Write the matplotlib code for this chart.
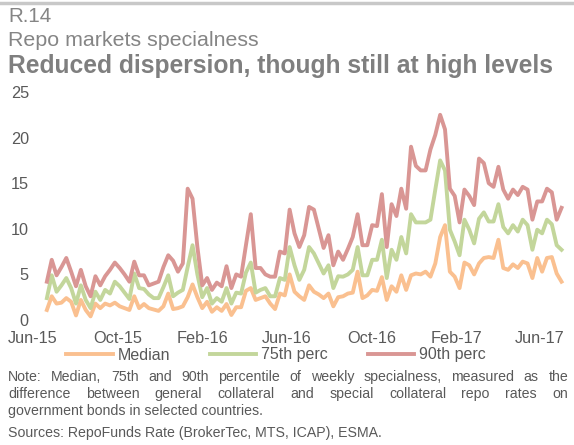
import matplotlib
matplotlib.use('Agg')
import matplotlib.pyplot as plt
import matplotlib.dates as mdates
import pandas as pd
from matplotlib.lines import Line2D

plt.rcParams['font.family'] = ['Liberation Sans', 'DejaVu Sans']

# ---------------- data ----------------
start_date = '2015-06-21'
median = [1.1, 2.6, 1.8, 1.9, 2.4, 2.0, 0.5, 2.2, 1.1, 0.4,
          1.8, 1.3, 1.8, 1.6, 1.9, 1.5, 1.3, 1.1, 2.6, 1.3,
          1.75, 1.3, 1.15, 1.0, 1.5, 2.9, 1.2, 1.3, 1.5, 2.5,
          3.9, 2.5, 1.3, 2.0, 0.9, 1.4, 1.0, 1.75, 0.55, 1.4,
          1.4, 3.2, 3.5, 2.2, 2.4, 2.6, 1.8, 1.2, 2.9, 2.7,
          5.0, 3.1, 2.6, 2.2, 3.8, 3.1, 2.8, 2.4, 2.9, 1.5,
          2.5, 2.6, 2.9, 3.0, 5.3, 2.4, 2.7, 3.3, 3.2, 4.7,
          2.2, 3.7, 3.1, 4.9, 3.3, 4.9, 5.1, 5.0, 5.3, 4.75,
          6.2, 9.1, 10.4, 5.3, 4.75, 3.5, 6.3, 6.0, 5.0, 6.2,
          6.8, 6.9, 6.8, 8.8, 5.7, 5.5, 6.1, 5.7, 6.4, 6.2,
          4.6, 6.8, 5.3, 6.8, 6.9, 5.1, 4.2]
perc75 = [2.4, 4.9, 3.1, 3.8, 4.6, 3.5, 1.8, 3.8, 2.2, 1.3,
          3.1, 2.2, 3.3, 2.9, 4.2, 3.7, 3.0, 2.3, 5.1, 3.5,
          3.4, 2.8, 2.4, 2.4, 3.6, 4.9, 2.6, 3.0, 3.3, 5.8,
          8.2, 5.0, 2.5, 3.5, 1.8, 2.4, 2.0, 3.5, 1.8, 3.0,
          2.9, 5.2, 6.3, 3.0, 3.3, 3.5, 2.6, 2.6, 4.6, 4.4,
          8.0, 6.0, 4.4, 5.5, 8.0, 7.3, 6.2, 5.1, 6.0, 3.5,
          4.8, 4.75, 5.0, 5.5, 8.0, 4.9, 4.9, 6.6, 6.6, 8.8,
          4.6, 7.7, 6.6, 9.1, 7.3, 11.6, 10.7, 10.7, 10.7, 11.0,
          14.3, 17.5, 16.4, 9.9, 8.6, 7.1, 11.0, 9.9, 8.4, 11.1,
          11.8, 10.8, 10.8, 12.7, 10.2, 9.5, 10.4, 9.7, 11.0, 10.4,
          7.7, 9.9, 9.5, 11.0, 10.5, 8.2, 7.7]
perc90 = [4.2, 6.6, 4.9, 5.8, 6.8, 5.3, 3.7, 5.5, 3.7, 2.6,
          4.8, 3.8, 4.8, 5.5, 6.3, 5.7, 5.0, 4.2, 6.4, 4.9,
          4.9, 3.8, 4.0, 4.2, 5.8, 7.1, 6.5, 5.3, 6.2, 14.4,
          13.3, 8.0, 3.8, 4.6, 3.3, 4.1, 3.7, 5.9, 3.5, 5.0,
          4.75, 8.2, 11.6, 5.7, 5.7, 5.0, 4.75, 4.75, 7.5, 7.3,
          12.1, 9.5, 8.0, 9.3, 12.4, 12.1, 10.0, 7.9, 9.3, 6.0,
          7.5, 6.6, 7.8, 9.1, 11.6, 8.2, 8.2, 10.4, 10.3, 13.8,
          8.0, 12.7, 11.4, 14.4, 12.2, 19.0, 16.9, 16.4, 16.4, 18.7,
          20.3, 22.5, 20.9, 14.4, 13.6, 10.7, 14.3, 13.6, 12.6, 17.7,
          17.2, 15.0, 14.6, 16.8, 14.3, 13.3, 14.3, 13.7, 14.6, 14.3,
          11.0, 13.0, 13.0, 14.4, 14.0, 11.0, 12.3]
series_names = ['Median', '75th perc', '90th perc']
series_colors = ['#FAC090', '#C3D69B', '#D99694']
tick_dates = ['2015-06-01', '2015-10-01', '2016-02-01', '2016-06-01',
              '2016-10-01', '2017-02-01', '2017-06-01']
tick_labels = ['Jun-15', 'Oct-15', 'Feb-16', 'Jun-16', 'Oct-16', 'Feb-17', 'Jun-17']
y_ticks = [0, 5, 10, 15, 20, 25]

# ---------------- figure ----------------
W, H = 574, 445
fig = plt.figure(figsize=(W / 100, H / 100), dpi=100)
fig.patch.set_facecolor('white')

ax = fig.add_axes([33 / W, 1 - 320 / H, 532 / W, 228 / H])
dates = pd.date_range(start_date, periods=len(median), freq='7D')
for vals, name, col in zip([median, perc75, perc90], series_names, series_colors):
    ax.plot(dates, vals, color=col, lw=2.8, label=name, solid_joinstyle='round')

ax.set_ylim(0, 25)
ax.set_yticks(y_ticks)
ax.set_xlim(pd.Timestamp('2015-06-01'), pd.Timestamp('2017-07-07'))
ax.set_xticks(pd.to_datetime(tick_dates))
ax.set_xticklabels(tick_labels)
for s in ax.spines.values():
    s.set_visible(False)
ax.tick_params(axis='both', length=0, labelsize=11.7, labelcolor='#595959')
ax.tick_params(axis='y', pad=3)
ax.tick_params(axis='x', pad=8)

# legend
handles = [Line2D([], [], color=c, lw=2.8) for c in series_colors]
fig.legend(handles, series_names, loc='center', ncol=3,
           bbox_to_anchor=(276 / W, 1 - 355 / H), frameon=False,
           fontsize=11.5, handlelength=2.9, handletextpad=0.3,
           columnspacing=2.5, labelcolor='#595959')

# top rule
fig.add_artist(Line2D([0, 1], [1 - 2.5 / H, 1 - 2.5 / H], transform=fig.transFigure,
                      color='#C8C8C8', lw=2.5))

# header texts
hc = '#858585'
fig.text(8 / W, 1 - 22 / H, 'R.14', fontsize=14.8, color=hc, va='baseline')
fig.text(8 / W, 1 - 46 / H, 'Repo markets specialness', fontsize=15.4, color=hc, va='baseline')
fig.text(8 / W, 1 - 73 / H, 'Reduced dispersion, though still at high levels',
         fontsize=17.7, color='#7f7f7f', weight='bold', va='baseline')

# notes (justified lines)
renderer = fig.canvas.get_renderer()


def justified(text, x0, x1, y, **kw):
    words = text.split()
    objs = [fig.text(0, 1 - y / H, w, va='baseline', **kw) for w in words]
    widths = [o.get_window_extent(renderer).width for o in objs]
    gap = ((x1 - x0) - sum(widths)) / (len(words) - 1)
    x = x0
    for o, w in zip(objs, widths):
        o.set_x(x / W)
        x += w + gap


nc = '#595959'
nfs = 10.2
justified('Note: Median, 75th and 90th percentile of weekly specialness, measured as the',
          8, 568, 381, fontsize=nfs, color=nc)
justified('difference between general collateral and special collateral repo rates on',
          8, 568, 398, fontsize=nfs, color=nc)
fig.text(8 / W, 1 - 415 / H, 'government bonds in selected countries.', fontsize=nfs,
         color=nc, va='baseline')
fig.text(8 / W, 1 - 437 / H, 'Sources: RepoFunds Rate (BrokerTec, MTS, ICAP), ESMA.',
         fontsize=nfs, color=nc, va='baseline')

fig.savefig('out.png', dpi=100, facecolor='white')
